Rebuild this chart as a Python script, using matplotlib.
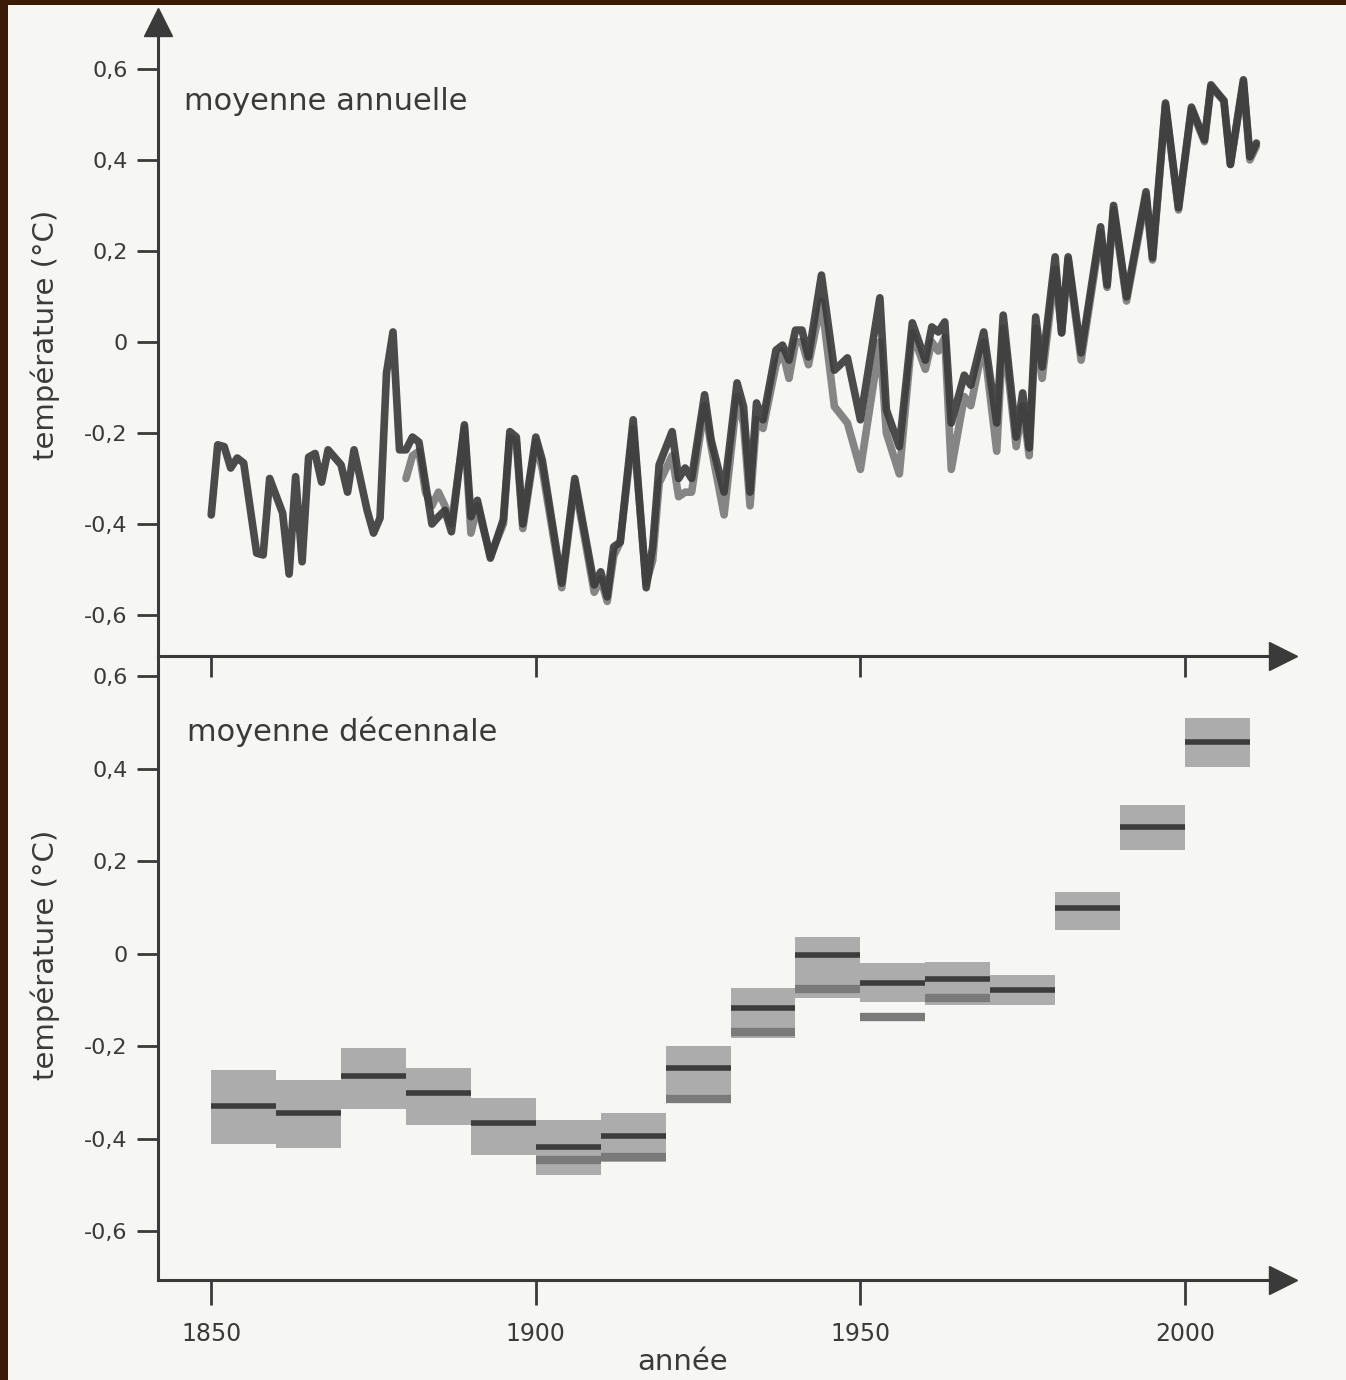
import numpy as np
import matplotlib
matplotlib.use("Agg")
import matplotlib.pyplot as plt
from matplotlib.patches import Rectangle

# annual anomalies, first series (1850 onwards)
years_a = [1850, 1851, 1852, 1853, 1854, 1855, 1857, 1858, 1859, 1861, 1862, 1863, 1864,
           1865, 1866, 1867, 1868, 1870, 1871, 1872, 1874, 1875, 1876, 1877, 1878, 1879,
           1880, 1881, 1882, 1884, 1885, 1886, 1887, 1889, 1890, 1891, 1893, 1895, 1896,
           1897, 1898, 1900, 1901, 1904, 1906, 1909, 1910, 1911, 1912, 1913, 1915, 1917,
           1918, 1919, 1921, 1922, 1923, 1924, 1926, 1927, 1929, 1931, 1932, 1933, 1934,
           1935, 1937, 1938, 1939, 1940, 1941, 1942, 1944, 1946, 1948, 1950, 1953, 1954,
           1956, 1958, 1960, 1961, 1962, 1963, 1964, 1966, 1967, 1969, 1971, 1972, 1974,
           1975, 1976, 1977, 1978, 1980, 1981, 1982, 1984, 1987, 1988, 1989, 1991, 1994,
           1995, 1997, 1999, 2001, 2003, 2004, 2006, 2007, 2009, 2010, 2011]
temp_a = [-0.38, -0.226, -0.23, -0.277, -0.255, -0.266, -0.464, -0.468, -0.30, -0.376, -0.51,
          -0.296, -0.483, -0.253, -0.245, -0.308, -0.237, -0.27, -0.33, -0.237, -0.369, -0.42,
          -0.387, -0.068, 0.022, -0.237, -0.237, -0.209, -0.22, -0.40, -0.384, -0.37, -0.417,
          -0.182, -0.384, -0.348, -0.475, -0.39, -0.197, -0.209, -0.40, -0.209, -0.26, -0.53,
          -0.30, -0.534, -0.505, -0.56, -0.45, -0.44, -0.171, -0.54, -0.45, -0.27, -0.197,
          -0.30, -0.277, -0.30, -0.116, -0.215, -0.33, -0.09, -0.142, -0.33, -0.134, -0.171,
          -0.018, -0.007, -0.04, 0.026, 0.026, -0.033, 0.147, -0.062, -0.035, -0.171, 0.097,
          -0.149, -0.23, 0.042, -0.04, 0.033, 0.022, 0.044, -0.178, -0.073, -0.095, 0.022,
          -0.178, 0.059, -0.209, -0.112, -0.233, 0.055, -0.055, 0.187, 0.02, 0.187, -0.024,
          0.253, 0.125, 0.30, 0.099, 0.33, 0.185, 0.525, 0.295, 0.516, 0.444, 0.565, 0.53,
          0.39, 0.576, 0.407, 0.437]

# annual anomalies, second series (1880 onwards)
years_b = [1880, 1881, 1882, 1883, 1884, 1885, 1886, 1887, 1889, 1890, 1891, 1893, 1895,
           1896, 1897, 1898, 1900, 1901, 1904, 1906, 1909, 1910, 1911, 1912, 1913, 1915,
           1917, 1918, 1919, 1921, 1922, 1923, 1924, 1926, 1927, 1929, 1931, 1932, 1933,
           1934, 1935, 1937, 1938, 1939, 1940, 1941, 1942, 1944, 1946, 1948, 1950, 1953,
           1954, 1956, 1958, 1960, 1961, 1962, 1963, 1964, 1966, 1967, 1969, 1971, 1972,
           1974, 1975, 1976, 1977, 1978, 1980, 1981, 1982, 1984, 1987, 1988, 1989, 1991,
           1994, 1995, 1997, 1999, 2001, 2003, 2004, 2006, 2007, 2009, 2010, 2011]
temp_b = [-0.30, -0.25, -0.24, -0.33, -0.36, -0.33, -0.36, -0.40, -0.19, -0.42, -0.36, -0.47,
          -0.40, -0.21, -0.22, -0.41, -0.22, -0.28, -0.54, -0.31, -0.55, -0.52, -0.57, -0.47,
          -0.44, -0.19, -0.53, -0.48, -0.31, -0.25, -0.34, -0.33, -0.33, -0.14, -0.23, -0.38,
          -0.12, -0.18, -0.36, -0.17, -0.19, -0.05, -0.02, -0.08, 0.0, 0.0, -0.05, 0.09,
          -0.142, -0.178, -0.28, 0.0, -0.20, -0.29, 0.02, -0.06, 0.0, -0.02, 0.01, -0.28,
          -0.12, -0.14, 0.0, -0.24, 0.03, -0.23, -0.14, -0.25, 0.03, -0.08, 0.16, 0.02, 0.18,
          -0.04, 0.24, 0.12, 0.29, 0.09, 0.32, 0.18, 0.52, 0.29, 0.51, 0.44, 0.56, 0.53, 0.39,
          0.57, 0.40, 0.43]

# decadal means with their uncertainty band
decades = [1850, 1860, 1870, 1880, 1890, 1900, 1910, 1920, 1930, 1940, 1950, 1960, 1970,
           1980, 1990, 2000]
band_low = [-0.41, -0.42, -0.335, -0.37, -0.435, -0.478, -0.45, -0.32, -0.182, -0.095,
            -0.104, -0.11, -0.11, 0.052, 0.225, 0.404]
band_high = [-0.25, -0.272, -0.203, -0.246, -0.311, -0.359, -0.344, -0.20, -0.074, 0.037,
             -0.02, -0.017, -0.045, 0.134, 0.322, 0.51]
dec_mean = [-0.329, -0.344, -0.264, -0.30, -0.365, -0.417, -0.394, -0.246, -0.117, -0.002,
            -0.063, -0.054, -0.078, 0.099, 0.275, 0.458]
dec_mean_b = [None, None, None, None, None, -0.445, -0.44, -0.313, -0.169, -0.075, -0.136,
              -0.095, None, None, None, None]

yticks = [-0.6, -0.4, -0.2, 0, 0.2, 0.4, 0.6]
ytick_labels = ["-0,6", "-0,4", "-0,2", "0", "0,2", "0,4", "0,6"]
xticks = [1850, 1900, 1950, 2000]

ink = "#3a3a3a"
page = "#f6f6f4"
W, H = 1346, 1380

fig = plt.figure(figsize=(W / 100, H / 100), dpi=100, facecolor="#3b1b08")
fig.patches.append(Rectangle((8 / W, 0), 1, 1 - 5 / H, transform=fig.transFigure,
                             facecolor=page, edgecolor="none", zorder=-10))


def box(left, top, right, bottom):
    return [left / W, 1 - bottom / H, (right - left) / W, (bottom - top) / H]


ax1 = fig.add_axes(box(158, 22, 1283, 656))
ax2 = fig.add_axes(box(158, 656, 1283, 1280))

for ax in (ax1, ax2):
    ax.set_facecolor("none")
    ax.set_xlim(1841.8, 2015.1)
    for side in ("top", "right"):
        ax.spines[side].set_visible(False)
    for side in ("left", "bottom"):
        ax.spines[side].set_color(ink)
        ax.spines[side].set_linewidth(2.2)
    ax.set_yticks(yticks)
    ax.set_yticklabels(ytick_labels)
    ax.set_xticks(xticks)
    ax.tick_params(axis="both", direction="out", length=15, width=2.0, color=ink,
                   labelcolor=ink, labelsize=16, pad=7)
    # arrow head at the end of the time axis
    ax.plot([1], [0], marker=">", markersize=20, color=ink, transform=ax.transAxes,
            clip_on=False)

ax1.set_ylim(-0.69, 0.703)
ax2.set_ylim(-0.705, 0.644)
ax1.tick_params(axis="x", labelbottom=False)
ax2.tick_params(axis="x", labelsize=17, pad=12, length=18)
ax1.plot([0], [1], marker="^", markersize=20, color=ink, transform=ax1.transAxes,
         clip_on=False)

# annual series
ax1.plot(years_b, temp_b, color="#858585", lw=5.5, solid_joinstyle="round",
         solid_capstyle="round")
ax1.plot(years_a, temp_a, color="#3c3c3c", lw=5.5, alpha=0.92, solid_joinstyle="round",
         solid_capstyle="round")

# decadal bands
for d, lo, hi, m, m2 in zip(decades, band_low, band_high, dec_mean, dec_mean_b):
    ax2.bar(d, hi - lo, bottom=lo, width=10, align="edge", color="#acacac",
            edgecolor="none")
    if m2 is not None:
        ax2.hlines(m2, d, d + 10, color="#7a7a7a", lw=6)
    ax2.hlines(m, d, d + 10, color="#3c3c3c", lw=4)

ax1.text(0.023, 0.874, "moyenne annuelle", transform=ax1.transAxes, fontsize=22,
         color=ink, va="center", ha="left")
ax2.text(0.026, 0.878, "moyenne décennale", transform=ax2.transAxes, fontsize=22,
         color=ink, va="center", ha="left")

fig.text(45 / W, 1 - 335 / H, "température (°C)", rotation=90, fontsize=21, color=ink,
         ha="center", va="center")
fig.text(45 / W, 1 - 955 / H, "température (°C)", rotation=90, fontsize=21, color=ink,
         ha="center", va="center")
fig.text(683 / W, 1 - 1362 / H, "année", fontsize=21, color=ink, ha="center",
         va="center")

fig.savefig("out.png", dpi=100, facecolor=fig.get_facecolor())
